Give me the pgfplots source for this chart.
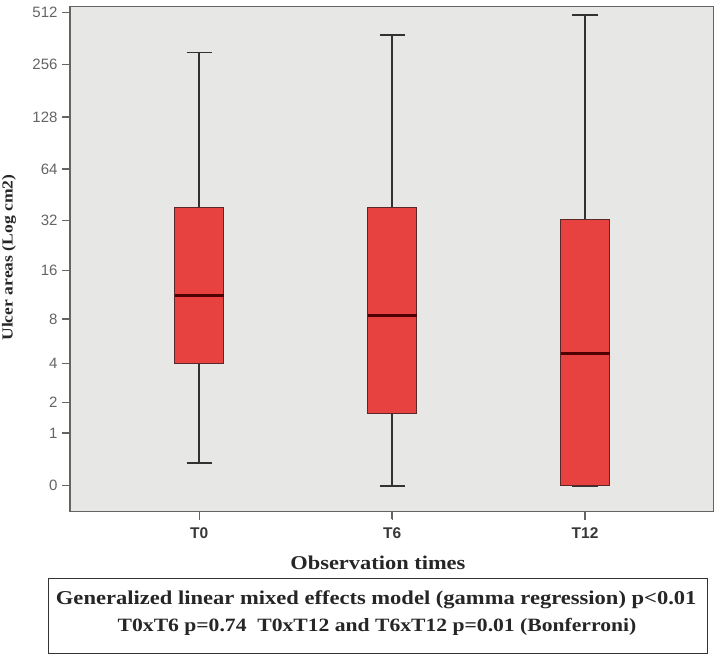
\documentclass[border=0pt]{standalone}
\usepackage{fontspec}
\setmainfont{Liberation Serif}
\newfontfamily\serifb[FakeStretch=1.15]{Liberation Serif}
\newfontfamily\tickfont{Liberation Sans}
\usepackage{pgfplots}
\pgfplotsset{compat=1.18}
\usepgfplotslibrary{statistics}
\definecolor{plotbg}{RGB}{231,231,229}
\definecolor{boxred}{RGB}{232,66,64}
\definecolor{boxedge}{RGB}{90,40,40}
\definecolor{med}{RGB}{80,0,0}
\definecolor{whisk}{RGB}{50,50,50}
\definecolor{framegray}{RGB}{100,100,100}
\definecolor{ticklab}{RGB}{100,100,100}
\definecolor{xlab}{RGB}{55,55,55}
\begin{document}
\begin{tikzpicture}
\useasboundingbox (0,0) rectangle (719bp,654bp);
\begin{axis}[
  name=main,
  at={(70bp,142.5bp)}, anchor=south west, scale only axis,
  width=643.3bp, height=504.8bp,
  xmin=0.33, xmax=3.665, ymin=-0.49, ymax=9.11,
  xtick={1,2,3}, xticklabels={T0,T6,T12},
  ytick={0,1,1.585,2.322,3.170,4.087,5.044,6.022,7.011,8.006,9.003},
  yticklabels={0,1,2,4,8,16,32,64,128,256,512},
  tick pos=left, clip=false,
  tick align=outside, major tick length=8bp,
  every tick/.append style={color=framegray, line width=1.3bp},
  axis background/.style={fill=plotbg},
  axis line style={draw=framegray, line width=1.6bp},
  xticklabel style={font=\tickfont\bfseries\fontsize{15.5bp}{18bp}\selectfont, text=xlab, yshift=-5bp},
  yticklabel style={font=\tickfont\fontsize{15bp}{18bp}\selectfont, text=ticklab, xshift=-1bp},
  boxplot/draw direction=y,
  boxplot/every box/.style={fill=boxred, draw=boxedge, line width=1bp},
  boxplot/every whisker/.style={draw=whisk, line width=1.6bp},
  boxplot/every median/.style={draw=med, line width=3bp},
]
\addplot[boxplot prepared={draw position=1, lower whisker=0.438, lower quartile=2.333, median=3.622, upper quartile=5.291, upper whisker=8.241, box extend=0.254, whisker extend=0.13}] coordinates {};
\addplot[boxplot prepared={draw position=2, lower whisker=0, lower quartile=1.380, median=3.228, upper quartile=5.291, upper whisker=8.576, box extend=0.254, whisker extend=0.13}] coordinates {};
\addplot[boxplot prepared={draw position=3, lower whisker=0, lower quartile=0, median=2.524, upper quartile=5.063, upper whisker=8.951, box extend=0.254, whisker extend=0.13}] coordinates {};
\end{axis}
\foreach \xx in {199.3,392.3,585}{\draw[framegray, line width=1.3bp] (\xx bp,142.5bp) -- (\xx bp,134bp);}
\foreach \yy in {0,1,1.585,2.322,3.170,4.087,5.044,6.022,7.011,8.006,9.003}{%
  \pgfmathsetmacro\yp{142.5+(\yy+0.49)*52.58}%
  \draw[framegray, line width=1.3bp] (70bp,\yp bp) -- (62bp,\yp bp);}
\node[font=\serifb\bfseries\fontsize{19.5bp}{22bp}\selectfont, text=black!85] at (377.9bp,91.3bp) {Observation times};
\node[rotate=90, font=\serifb\bfseries\fontsize{15.3bp}{18bp}\selectfont, text=black!85] at (9bp,396.5bp) {Ulcer areas (Log cm2)};
\draw[draw=black!80, line width=1bp] (48.3bp,0.7bp) rectangle (707bp,75bp);
\node[font=\serifb\bfseries\fontsize{19.6bp}{22bp}\selectfont, text=black!85] at (376.2bp,54bp) {Generalized linear mixed effects model (gamma regression) p<0.01};
\node[font=\serifb\bfseries\fontsize{18.8bp}{22bp}\selectfont, text=black!85] at (377bp,27.3bp) {T0xT6 p=0.74\ \ T0xT12 and T6xT12 p=0.01 (Bonferroni)};
\end{tikzpicture}
\end{document}
